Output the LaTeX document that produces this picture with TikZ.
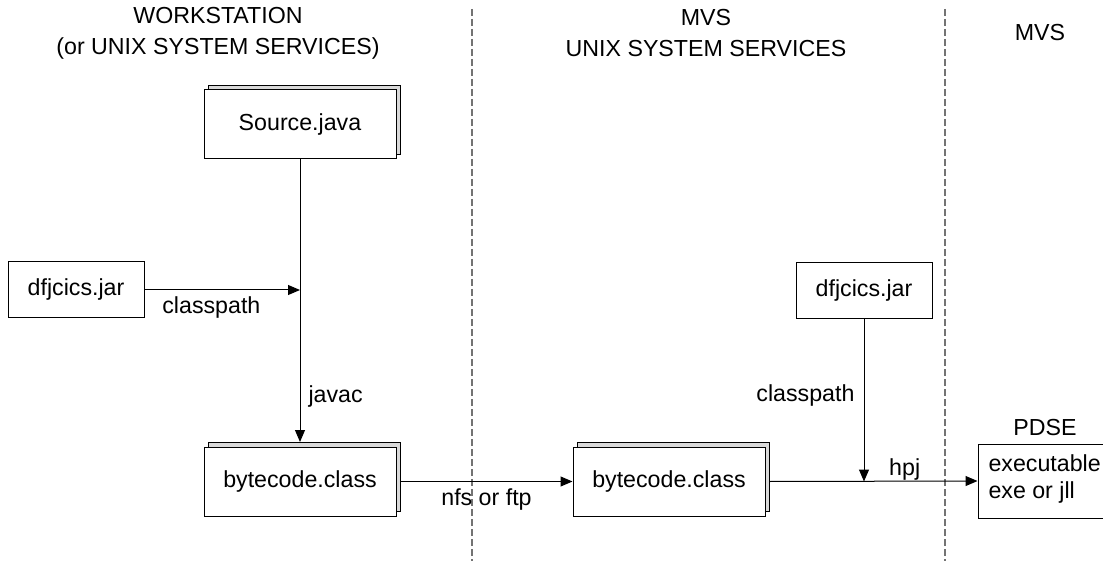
\documentclass[tikz,border=0pt]{standalone}
\usepackage{fontspec}
\setmainfont{Liberation Sans}
\usetikzlibrary{arrows.meta}
\tikzset{
    tnode/.style = {align=center, inner sep=0pt, text centered, font=\fontsize{11.6}{15.5}\selectfont},
    file_box/.style = {tnode, rectangle, draw=black, fill=white, minimum width=96pt, minimum height=34.5pt},
    back_box/.style = {file_box, fill=gray!30},
    jar_box/.style = {tnode, rectangle, draw=black, fill=white, minimum width=68pt, minimum height=28pt},
    out_box/.style = {tnode, rectangle, draw=black, fill=white, minimum width=81pt, minimum height=37pt},
    lbl/.style = {tnode},
    divider/.style = {draw=black!55, line width=0.6pt, dash pattern=on 3.5pt off 1.5pt}
}

\begin{document}
\begin{tikzpicture}[x=0.5pt,y=-0.5pt,>={Triangle[length=6pt,width=5pt]},line width=0.5pt]
    \useasboundingbox (0,0) rectangle (1103,561);
    % column headings
    \node [lbl] (head_ws) at (218,33) {WORKSTATION\\(or UNIX SYSTEM SERVICES)};
    \node [lbl] (head_uss) at (706,33) {MVS\\UNIX SYSTEM SERVICES};
    \node [lbl] (head_mvs) at (1040,33) {MVS};
    % dividers
    \coordinate (div1_top) at (472,9);
    \coordinate (div1_bot) at (472,561);
    \coordinate (div2_top) at (945,9);
    \coordinate (div2_bot) at (945,561);
    \draw [divider] (div1_top) -- (div1_bot);
    \draw [divider] (div2_top) -- (div2_bot);
    % files
    \node [back_box] (src_back) at (304,120.5) {};
    \node [file_box] (src) at (300,124.5) {Source.java};
    \node [back_box] (bc1_back) at (304,477) {};
    \node [file_box] (bc1) at (300,481.5) {bytecode.class};
    \node [back_box] (bc2_back) at (673,477) {};
    \node [file_box] (bc2) at (669,481.5) {bytecode.class};
    \node [jar_box] (jar1) at (76,290) {dfjcics.jar};
    \node [jar_box] (jar2) at (864,291) {dfjcics.jar};
    \node [lbl] (pdse_lbl) at (1045,428) {PDSE};
    \node [out_box] (pdse) at (1059,481) {};
    \node [tnode, align=left, anchor=west, font=\fontsize{11.6}{13.5}\selectfont] (pdse_txt) at (988,479) {executable\\exe or jll};
    % flows
    \coordinate (cp1) at (src.south |- jar1.east);
    \coordinate (cp2) at (jar2.south |- bc2);
    \draw [->] (jar1.east) -- (cp1) node [lbl, below=3pt, pos=0.43] {classpath};
    \draw [->] (src.south) -- (bc1_back.north -| src.south) node [lbl, right=4pt, pos=0.84] {javac};
    \draw [->] (bc1_back.east |- bc1) -- (bc2.west) node [lbl, below=3.5pt, midway] {nfs or ftp};
    \draw [->] (jar2.south) -- (cp2) node [lbl, left=4.5pt, pos=0.47] {classpath};
    \draw [->] (bc2_back.east |- bc2) -- (pdse.west) node [lbl, above=0pt, pos=0.65] {hpj};
\end{tikzpicture}
\end{document}
